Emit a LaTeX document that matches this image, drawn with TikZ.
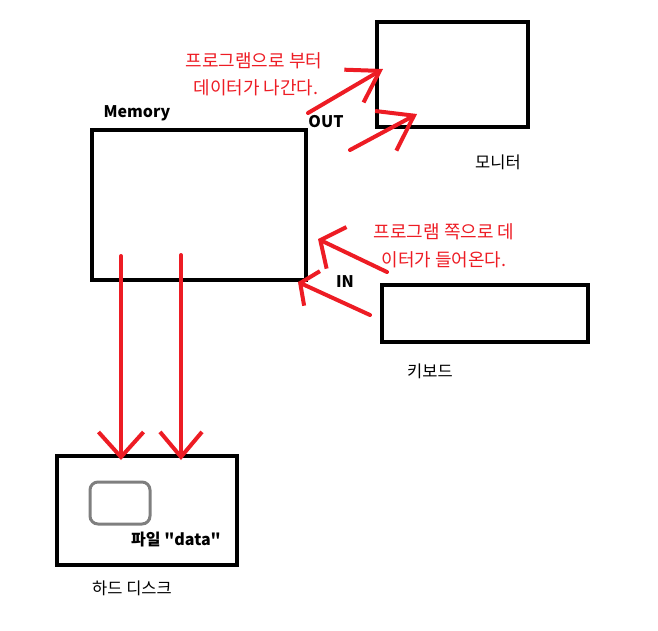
\documentclass[tikz,border=0pt]{standalone}
\usepackage{fontspec}
\setmainfont{Noto Sans CJK KR}
\usepackage{tikz}
\usetikzlibrary{arrows.meta,positioning}
\definecolor{rouge}{HTML}{ED1C24}
\definecolor{grisd}{HTML}{7F7F7F}

\begin{document}
\begin{tikzpicture}[
  x=1pt, y=-1pt,
  box/.style={draw, line width=4.5pt, inner sep=0pt},
  lbl/.style={font=\fontsize{16.5}{18}\selectfont},
  blbl/.style={font=\fontsize{16}{18}\selectfont\bfseries},
  rtxt/.style={text=rouge, font=\fontsize{18}{20}\selectfont},
  flow/.style 2 args={draw=rouge, line width=4pt, line cap=round,
              -{Straight Barb[length=#1, width=#2]}}
]
\useasboundingbox (0,0) rectangle (658,630);

% boxes
\node[box, minimum width=214pt, minimum height=150pt] (mem) at (199,205) {};
\node[box, minimum width=151pt, minimum height=105pt] (mon) at (452.5,74.5) {};
\node[box, minimum width=206pt, minimum height=57pt] (kbd) at (485,313.5) {};
\node[box, minimum width=180pt, minimum height=109pt] (disk) at (147,510.5) {};
\node[draw=grisd, line width=3pt, rounded corners=8pt, inner sep=0pt,
      minimum width=60pt, minimum height=42pt] (file) at (120,503) {};

% labels
\node[blbl] (memlbl) at (137,113) {Memory};
\node[lbl] (monlbl) at (498,162) {모니터};
\node[lbl] (kbdlbl) at (430,371) {키보드};
\node[lbl] (disklbl) at (132,588) {하드 디스크};
\node[blbl] (filelbl) at (176,540) {파일 \textquotedbl data\textquotedbl};
\node[blbl] (outlbl) at (326,122) {OUT};
\node[blbl] (inlbl) at (345,282) {IN};

\node[rtxt] (out1) at (254,61) {프로그램으로 부터};
\node[rtxt] (out2) at (256,88) {데이터가 나간다.};
\node[rtxt] (in1) at (444,232) {프로그램 쪽으로 데};
\node[rtxt] (in2) at (444,260) {이터가 들어온다.};

% arrow ends
\coordinate (o1s) at (308,113);
\coordinate (o1e) at (383,69);
\coordinate (o2s) at (350,150);
\coordinate (o2e) at (417,114);
\coordinate (i1s) at (387,272);
\coordinate (i1e) at (318,239);
\coordinate (i2s) at (370,315);
\coordinate (i2e) at (298,282);
\coordinate (d1s) at (121,256);
\coordinate (d1e) at (121,460);
\coordinate (d2s) at (181,255);
\coordinate (d2e) at (181,460);

% data flow
\draw[flow={30pt}{38pt}] (o1s) -- (o1e);
\draw[flow={32pt}{45pt}] (o2s) -- (o2e);
\draw[flow={18pt}{46pt}] (i1s) -- (i1e);
\draw[flow={13pt}{38pt}] (i2s) -- (i2e);
\draw[flow={25pt}{45pt}] (d1s) -- (d1e);
\draw[flow={25pt}{42pt}] (d2s) -- (d2e);
\end{tikzpicture}
\end{document}
